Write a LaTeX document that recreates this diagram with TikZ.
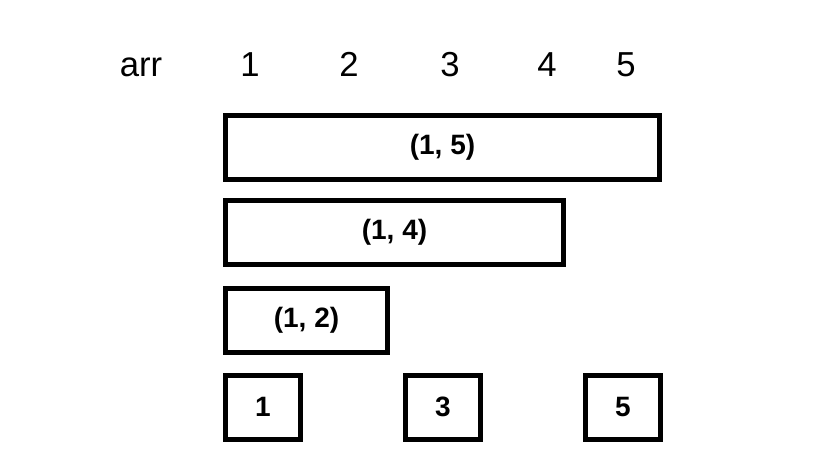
\documentclass[tikz,border=0pt]{standalone}
\usepackage{fontspec}
\setmainfont{Liberation Sans}
\usepackage{tikz}
\usetikzlibrary{positioning}

\tikzset{
  hdr/.style={font=\fontsize{26}{26}\selectfont, anchor=base, inner sep=0pt},
  seg/.style={draw, line width=3.75pt, minimum height=48pt, inner sep=0pt,
    font=\bfseries\fontsize{21}{21}\selectfont},
}

\begin{document}
\begin{tikzpicture}[x=0.75pt, y=-0.75pt]
  \useasboundingbox (0,0) rectangle (816,472);

  \node[hdr] (arr) at (141, 76) {arr};
  \node[hdr] (i1) at (250, 76) {1}; \node[hdr] (i2) at (349, 76) {2};
  \node[hdr] (i3) at (450, 76) {3}; \node[hdr] (i4) at (547, 76) {4};
  \node[hdr] (i5) at (626, 76) {5};

  \node[seg, minimum width=325.5pt] (r15) at (442.5, 147.5) {(1, 5)};
  \node[seg, minimum width=253.5pt] (r14) at (394.5, 232.5) {(1, 4)};
  \node[seg, minimum width=121.5pt] (r12) at (306.5, 320) {(1, 2)};

  \node[seg, minimum width=56.25pt] (e1) at (263, 407) {1};
  \node[seg, minimum width=56.25pt] (e3) at (443, 407) {3};
  \node[seg, minimum width=56.25pt] (e5) at (623, 407) {5};
\end{tikzpicture}
\end{document}
